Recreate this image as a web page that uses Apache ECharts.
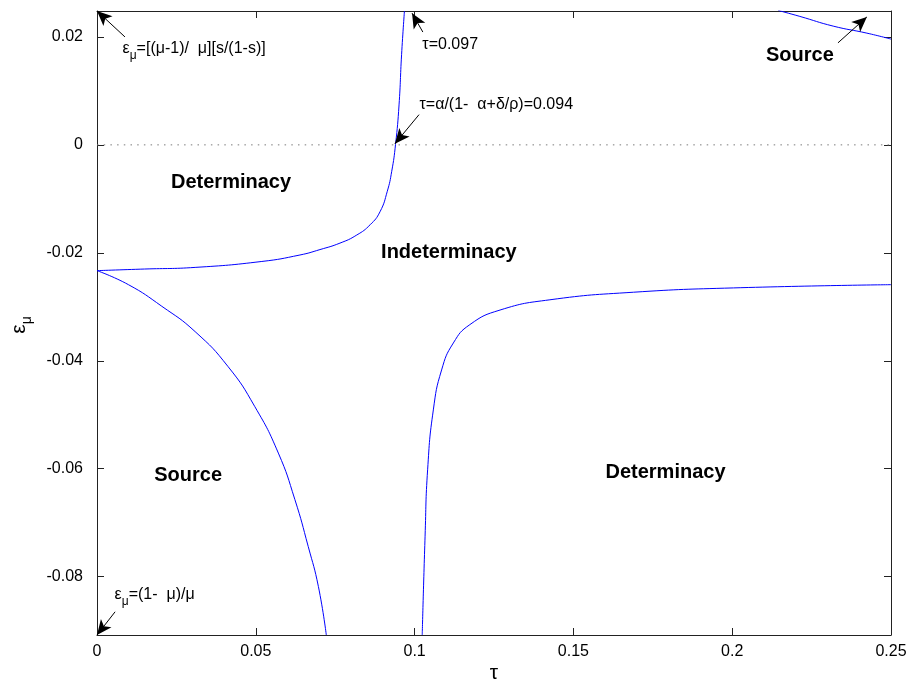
<!DOCTYPE html>
<html><head><meta charset="utf-8">
<script src="https://cdn.jsdelivr.net/npm/echarts@6/dist/echarts.min.js"></script>
<style>html,body{margin:0;padding:0;background:#fff}#c{width:908px;height:688px}</style>
</head><body><div id="c"></div>
<script>
// ---- axis ticks ----
const xTicks = [0, 0.05, 0.1, 0.15, 0.2, 0.25];
const yTicks = [-0.08, -0.06, -0.04, -0.02, 0, 0.02];
const xRange = [0, 0.25];
const yRange = [-0.0908, 0.0248];

// ---- boundary curves ----
const indetTau = [0, 0.015, 0.0309, 0.0519, 0.0639, 0.0702, 0.0765, 0.0818, 0.0860, 0.0891, 0.0914, 0.0928, 0.0940, 0.0951, 0.0959, 0.0968];
const indetEps = [-0.0233, -0.0230, -0.0227, -0.0216, -0.0204, -0.0194, -0.0182, -0.0167, -0.0148, -0.0124, -0.0086, -0.0049, 0.0001, 0.0074, 0.0167, 0.0248];

const sourceTau = [0, 0.0099, 0.0204, 0.0309, 0.0413, 0.0497, 0.0571, 0.0623, 0.0665, 0.0697, 0.0722];
const sourceEps = [-0.0233, -0.0259, -0.0299, -0.0346, -0.0411, -0.0485, -0.0571, -0.0657, -0.0744, -0.0818, -0.0908];

const detTau = [0.1024, 0.1033, 0.1041, 0.1059, 0.1085, 0.1122, 0.1174, 0.1269, 0.1426, 0.1689, 0.2004, 0.25];
const detEps = [-0.0908, -0.0725, -0.0602, -0.0491, -0.0417, -0.0367, -0.0333, -0.0306, -0.0287, -0.0273, -0.0265, -0.0259];

const upperTau = [0.2145, 0.2213, 0.2318, 0.2424, 0.25];
const upperEps = [0.0249, 0.0238, 0.0220, 0.0207, 0.0196];

const zeroTau = [0, 0.25];
const zeroEps = [0, 0];

// ---- region labels ----
const regionNames = ['Determinacy', 'Indeterminacy', 'Source', 'Determinacy', 'Source'];
const regionTau = [0.0422, 0.1108, 0.0287, 0.1790, 0.2213];
const regionEps = [-0.0069, -0.0200, -0.0613, -0.0607, 0.0165];

// ---- annotations ----
const noteTexts = ['{m|ε}{s|μ}{m|=[(μ-1)/  μ][s/(1-s)]}', '{m|τ=0.097}', '{m|τ=α/(1-  α+δ/ρ)=0.094}', '{m|ε}{s|μ}{m|=(1-  μ)/μ}'];
const noteTau = [0.0082, 0.1026, 0.1017, 0.0057];
const noteEps = [0.0178, 0.0184, 0.0074, -0.0834];

const arrowFromTau = [0.0088, 0.1026, 0.1014, 0.2333, 0.0057];
const arrowFromEps = [0.0200, 0.0209, 0.0056, 0.0189, -0.0865];
const arrowToTau = [0.0000, 0.0992, 0.0938, 0.2424, 0.0000];
const arrowToEps = [0.0248, 0.0244, 0.0002, 0.0237, -0.0908];

const FONT = 'Liberation Sans, Arial, Helvetica, sans-serif';
const FS = 16;
const zip = (a, b) => a.map((v, i) => [v, b[i]]);
const near = (v, arr) => arr.some(t => Math.abs(t - v) < 1e-9);
const richStyle = {
  m: { fontSize: FS, lineHeight: 26, verticalAlign: 'middle', color: '#000', fontFamily: FONT },
  s: { fontSize: 12, lineHeight: 12, verticalAlign: 'bottom', color: '#000', fontFamily: FONT }
};
const richName = {
  m: { fontSize: 21, lineHeight: 30, verticalAlign: 'middle', fill: '#000', fontFamily: FONT },
  s: { fontSize: 14, lineHeight: 14, verticalAlign: 'bottom', fill: '#000', fontFamily: FONT }
};

const chart = echarts.init(document.getElementById('c'), null, { renderer: 'canvas' });

const curveStyle = { color: '#0000ff', width: 1 };
function curve(t, e) {
  return {
    type: 'line', data: zip(t, e), showSymbol: false, symbol: 'none',
    smooth: 0.5, clip: true, silent: true,
    lineStyle: curveStyle, itemStyle: { color: '#0000ff' }, z: 3
  };
}

const axisCommon = {
  axisLine: { show: true, onZero: false, lineStyle: { color: '#222', width: 1 } },
  axisTick: { show: true, inside: true, length: 7, lineStyle: { color: '#222', width: 1 } },
  splitLine: { show: false },
  minorTick: { show: false }
};

chart.setOption({
  animation: false,
  backgroundColor: '#fff',
  grid: { left: 97, right: 17, top: 11, bottom: 53, containLabel: false, outerBoundsMode: 'none' },
  xAxis: [
    Object.assign({
      type: 'value', position: 'bottom', min: xRange[0], max: xRange[1], interval: 0.05,
      axisLabel: { show: true, color: '#000', fontSize: FS, fontFamily: FONT, margin: 9,
        formatter: v => near(v, xTicks) ? String(+v.toFixed(2)) : '' }
    }, axisCommon),
    Object.assign({
      type: 'value', position: 'top', min: xRange[0], max: xRange[1], interval: 0.05,
      axisLabel: { show: false }
    }, axisCommon)
  ],
  yAxis: [
    Object.assign({
      type: 'value', position: 'left', min: yRange[0], max: yRange[1], splitNumber: 5,
      axisLabel: { show: true, color: '#000', fontSize: FS, fontFamily: FONT, margin: 14,
        showMinLabel: false, showMaxLabel: false,
        formatter: v => near(v, yTicks) ? String(+v.toFixed(2)) : '' }
    }, axisCommon),
    Object.assign({
      type: 'value', position: 'right', min: yRange[0], max: yRange[1], splitNumber: 5,
      axisLabel: { show: false }
    }, axisCommon)
  ],
  series: [
    {
      type: 'line', data: zip(zeroTau, zeroEps), showSymbol: false, symbol: 'none', silent: true,
      lineStyle: { color: '#7a7a7a', width: 1, type: [1.5, 5.2] }, z: 2,
      markLine: {
        silent: true, animation: false,
        symbol: ['none', 'arrow'], symbolSize: [10, 15],
        label: { show: false },
        lineStyle: { color: '#000', width: 1, type: 'solid' },
        emphasis: { disabled: true },
        data: arrowFromTau.map((t, i) => [
          { coord: [t, arrowFromEps[i]] },
          { coord: [arrowToTau[i], arrowToEps[i]] }
        ])
      }
    },
    curve(indetTau, indetEps),
    curve(sourceTau, sourceEps),
    curve(detTau, detEps),
    curve(upperTau, upperEps),
    {
      type: 'scatter', silent: true, symbolSize: 1, itemStyle: { color: 'rgba(0,0,0,0)', opacity: 1 },
      data: regionNames.map((n, i) => ({ name: n, value: [regionTau[i], regionEps[i]] })),
      label: { show: true, position: 'inside', formatter: '{b}', color: '#000', opacity: 1,
        fontSize: 20, fontWeight: 'bold', fontFamily: FONT },
      labelLayout: { hideOverlap: false }, z: 5
    },
    {
      type: 'scatter', silent: true, symbolSize: 1, itemStyle: { color: 'rgba(0,0,0,0)', opacity: 1 },
      data: noteTexts.map((n, i) => ({ name: n, value: [noteTau[i], noteEps[i]] })),
      label: { show: true, position: [0, 0], align: 'left', verticalAlign: 'middle', opacity: 1,
        formatter: p => p.name, rich: richStyle, fontFamily: FONT, fontSize: FS, color: '#000' },
      labelLayout: { hideOverlap: false }, z: 5
    }
  ],
  graphic: [
    { type: 'text', x: 494, y: 673, silent: true,
      style: { text: 'τ', fill: '#000', fontSize: 21, fontFamily: FONT, align: 'center', verticalAlign: 'middle' } },
    { type: 'text', x: 19, y: 325, rotation: Math.PI / 2, silent: true,
      style: { text: '{m|ε}{s|μ}', rich: richName, fontSize: 21, fontFamily: FONT, fill: '#000', align: 'center', verticalAlign: 'middle' } }
  ]
});
</script>
</body></html>
